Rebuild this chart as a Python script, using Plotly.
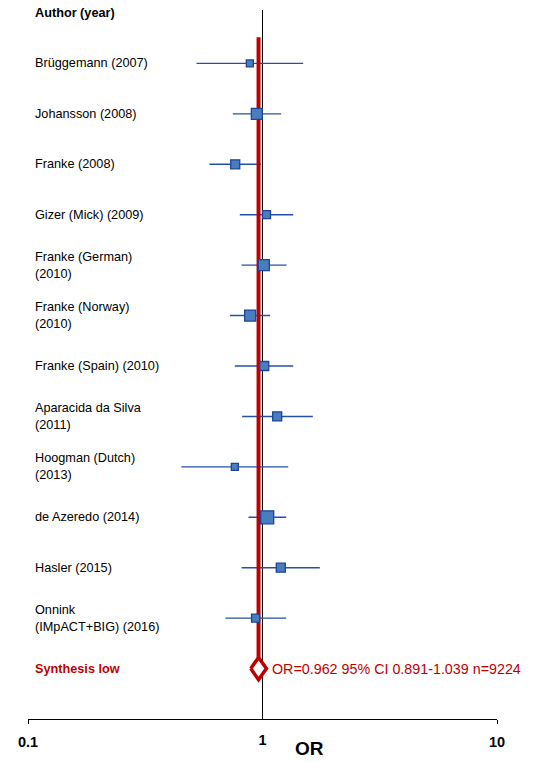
import math
import plotly.graph_objects as go

studies = ["Brüggemann (2007)", "Johansson (2008)", "Franke (2008)", "Gizer (Mick) (2009)",
           "Franke (German)<br>(2010)", "Franke (Norway)<br>(2010)", "Franke (Spain) (2010)",
           "Aparacida da Silva<br>(2011)", "Hoogman (Dutch)<br>(2013)", "de Azeredo (2014)",
           "Hasler (2015)", "Onnink<br>(IMpACT+BIG) (2016)"]
or_est = [0.883, 0.946, 0.765, 1.040, 1.013, 0.886, 1.017, 1.155, 0.762, 1.047, 1.197, 0.934]
ci_lo = [0.523, 0.747, 0.594, 0.800, 0.814, 0.726, 0.762, 0.819, 0.451, 0.872, 0.814, 0.695]
ci_hi = [1.491, 1.201, 0.985, 1.352, 1.266, 1.078, 1.352, 1.639, 1.287, 1.262, 1.756, 1.262]
weights = [7, 11, 9, 8, 11, 11, 9, 9, 7, 13, 9, 8]

pooled_or = 0.962
pooled_lo = 0.891
pooled_hi = 1.039
pooled_n = 9224

tick_vals = [0.1, 1, 10]
tick_text = ["0.1", "1", "10"]

rows = list(range(1, len(studies) + 1))
syn_row = len(studies) + 1
axis_row = syn_row + 1

FONT = "Liberation Sans, Arial, sans-serif"
RED = "#C00000"
BLUE_LINE = "#2450A8"
SQ_FILL = "#4A7CC0"
SQ_EDGE = "#1D4496"

fig = go.Figure()

# vertical line at OR = 1
fig.add_trace(go.Scatter(x=[1, 1], y=[-0.06, axis_row], mode="lines",
                         line=dict(color="black", width=1), hoverinfo="skip", showlegend=False))

# CI lines
for r, lo, hi in zip(rows, ci_lo, ci_hi):
    fig.add_trace(go.Scatter(x=[lo, hi], y=[r, r], mode="lines",
                             line=dict(color=BLUE_LINE, width=1.4), hoverinfo="skip", showlegend=False))

# pooled estimate line
fig.add_trace(go.Scatter(x=[pooled_or, pooled_or], y=[0.48, syn_row - 0.22], mode="lines",
                         line=dict(color=RED, width=4), hoverinfo="skip", showlegend=False))

# squares
fig.add_trace(go.Scatter(x=or_est, y=rows, mode="markers",
                         marker=dict(symbol="square", size=weights, color=SQ_FILL, opacity=1,
                                     line=dict(color=SQ_EDGE, width=1.3)),
                         showlegend=False))

# diamond
fig.add_trace(go.Scatter(x=[pooled_lo, pooled_or, pooled_hi, pooled_or, pooled_lo],
                         y=[syn_row, syn_row - 0.22, syn_row, syn_row + 0.22, syn_row],
                         mode="lines", fill="toself", fillcolor="white",
                         line=dict(color=RED, width=3.5), showlegend=False))

# labels
LX = 0.011
annotations = [dict(x=LX, xref="paper", y=0, yref="y", text="<b>Author (year)</b>",
                    showarrow=False, xanchor="left", yanchor="middle", align="left",
                    font=dict(family=FONT, size=12.7, color="black"))]
for r, s in zip(rows, studies):
    annotations.append(dict(x=LX, xref="paper", y=r, yref="y", text=s, showarrow=False,
                            xanchor="left", yanchor="middle", align="left",
                            font=dict(family=FONT, size=12.7, color="black")))
annotations.append(dict(x=LX, xref="paper", y=syn_row, yref="y", text="<b>Synthesis low</b>",
                        showarrow=False, xanchor="left", yanchor="middle", align="left",
                        font=dict(family=FONT, size=12.7, color=RED)))
annotations.append(dict(x=math.log10(pooled_hi), xref="x", y=syn_row, yref="y", xshift=4,
                        text=f"OR={pooled_or:.3f} 95% CI {pooled_lo:.3f}-{pooled_hi:.3f} n={pooled_n}",
                        showarrow=False, xanchor="left", yanchor="middle",
                        font=dict(family=FONT, size=14.3, color=RED)))
annotations.append(dict(x=0.601, xref="paper", y=-0.041, yref="paper", text="<b>OR</b>",
                        showarrow=False, xanchor="center", yanchor="middle",
                        font=dict(family=FONT, size=19, color="black")))

fig.update_layout(
    width=534, height=754,
    margin=dict(l=20, r=45, t=0, b=43),
    paper_bgcolor="white", plot_bgcolor="white",
    annotations=annotations,
    xaxis=dict(type="log", range=[-1, 1], tickvals=[tick_vals[0], tick_vals[2]],
               ticktext=[tick_text[0], tick_text[2]],
               ticks="outside", ticklen=4, tickcolor="black", showline=True,
               linecolor="black", linewidth=1, showgrid=False, zeroline=False,
               ticklabelstandoff=6,
               tickfont=dict(family=FONT, size=14.5, color="black", weight="bold")),
    xaxis2=dict(type="log", range=[-1, 1], tickvals=[tick_vals[1]], ticktext=[tick_text[1]],
                overlaying="x", anchor="y", side="bottom", ticks="", showline=False,
                showgrid=False, zeroline=False, ticklabelstandoff=10,
                tickfont=dict(family=FONT, size=14.5, color="black", weight="bold")),
    yaxis=dict(range=[axis_row, -0.099], visible=False, showgrid=False, zeroline=False),
)
# invisible trace to activate xaxis2
fig.add_trace(go.Scatter(x=[1], y=[axis_row], xaxis="x2", mode="markers",
                         marker=dict(opacity=0), hoverinfo="skip", showlegend=False))

fig.write_html("out.html")
